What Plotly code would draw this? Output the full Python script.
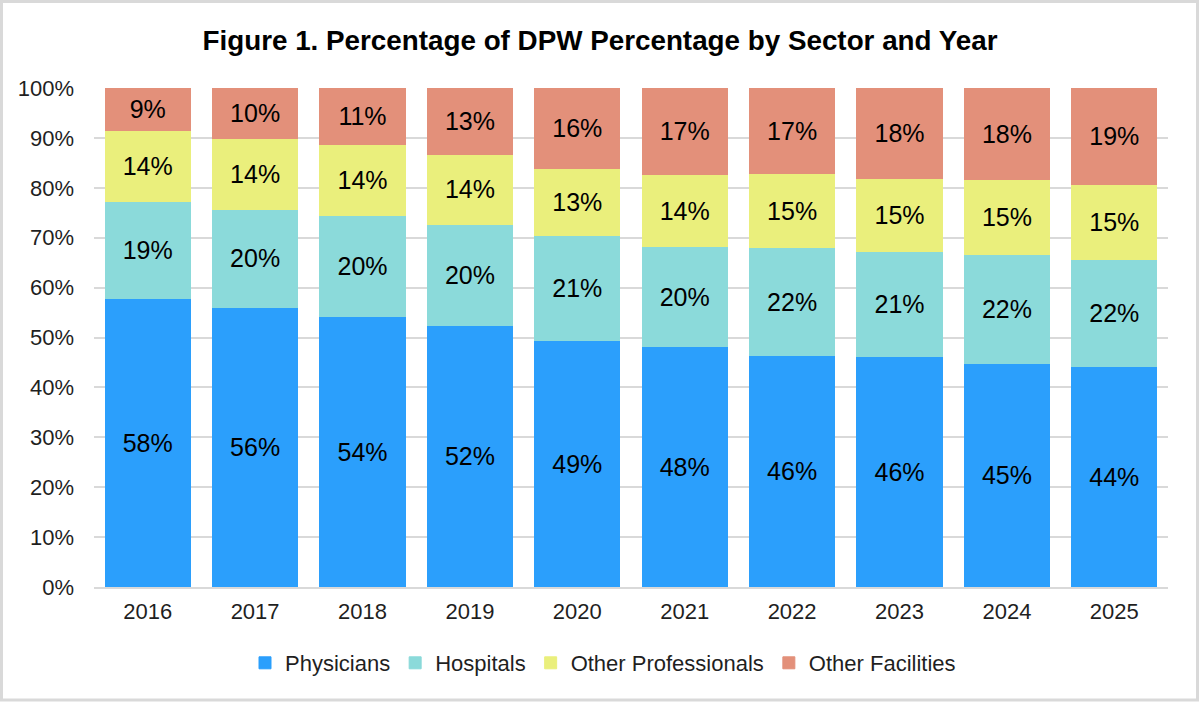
import plotly.graph_objects as go

# Share of DPW by sector (percent)
years = ["2016", "2017", "2018", "2019", "2020", "2021", "2022", "2023", "2024", "2025"]
physicians = [57.8, 56.1, 54.3, 52.4, 49.4, 48.2, 46.4, 46.1, 44.7, 44.1]
hospitals = [19.4, 19.6, 20.2, 20.3, 21.1, 20.0, 21.6, 21.1, 22.0, 21.6]
other_professionals = [14.2, 14.1, 14.1, 14.0, 13.3, 14.4, 14.8, 14.6, 14.9, 14.9]
other_facilities = [8.6, 10.2, 11.4, 13.3, 16.2, 17.4, 17.2, 18.2, 18.4, 19.4]

y_ticks = [0, 10, 20, 30, 40, 50, 60, 70, 80, 90, 100]
y_tick_labels = [f"{v}%" for v in y_ticks]

series = [
    ("Physicians", physicians, "#2B9FFC"),
    ("Hospitals", hospitals, "#8BDADA"),
    ("Other Professionals", other_professionals, "#EAEF7C"),
    ("Other Facilities", other_facilities, "#E3907A"),
]

fig = go.Figure()
for name, vals, color in series:
    fig.add_trace(go.Bar(
        x=years,
        y=vals,
        name=name,
        marker=dict(color=color, line=dict(color=color, width=1)),
        texttemplate="%{y:.0f}%",
        textposition="inside",
        insidetextanchor="middle",
        textangle=0,
        textfont=dict(size=25, color="black", family="Liberation Sans, Arial"),
        constraintext="none",
    ))

W, H = 1200, 702
ml, mr, mt, mb = 94, 32, 88, 115
pw, ph = W - ml - mr, H - mt - mb

fig.update_layout(
    barmode="stack",
    bargap=0.205,
    width=W,
    height=H,
    margin=dict(l=ml, r=mr, t=mt, b=mb),
    paper_bgcolor="white",
    plot_bgcolor="white",
    font=dict(family="Liberation Sans, Arial", size=22, color="#1F1F1F"),
    title=dict(
        text="<b>Figure 1. Percentage of DPW Percentage by Sector and Year</b>",
        x=0.5, xanchor="center", y=1 - 40 / H, yanchor="middle",
        font=dict(size=27.8, color="black"),
    ),
    legend=dict(
        orientation="h",
        x=(603 - ml) / pw, xanchor="center",
        y=-(663 - (H - mb)) / ph, yanchor="middle",
        font=dict(size=22, color="#1F1F1F"),
        itemwidth=30,
        traceorder="normal",
    ),
    showlegend=True,
)

fig.update_yaxes(
    range=[0, 100],
    tickmode="array",
    tickvals=y_ticks,
    ticktext=y_tick_labels,
    showgrid=True,
    gridcolor="#D9D9D9",
    gridwidth=2,
    zeroline=False,
    showline=False,
    ticks="",
    ticklabelstandoff=19,
    tickfont=dict(size=22),
)
fig.update_xaxes(
    showline=True,
    linecolor="#D9D9D9",
    linewidth=2,
    ticks="",
    tickfont=dict(size=22),
    ticklabelstandoff=4,
)

# light grey frame round the whole figure
fig.add_shape(
    type="rect", xref="paper", yref="paper",
    x0=-(ml - 1.5) / pw, x1=1 + (mr - 2.5) / pw,
    y0=-(mb - 2) / ph, y1=1 + (mt - 1.5) / ph,
    line=dict(color="#D9D9D9", width=3),
    layer="below",
)

fig.write_html(
    "out.html",
    config={"displayModeBar": False},
    post_script="document.body.style.margin='0px';document.body.style.overflow='hidden';",
)
